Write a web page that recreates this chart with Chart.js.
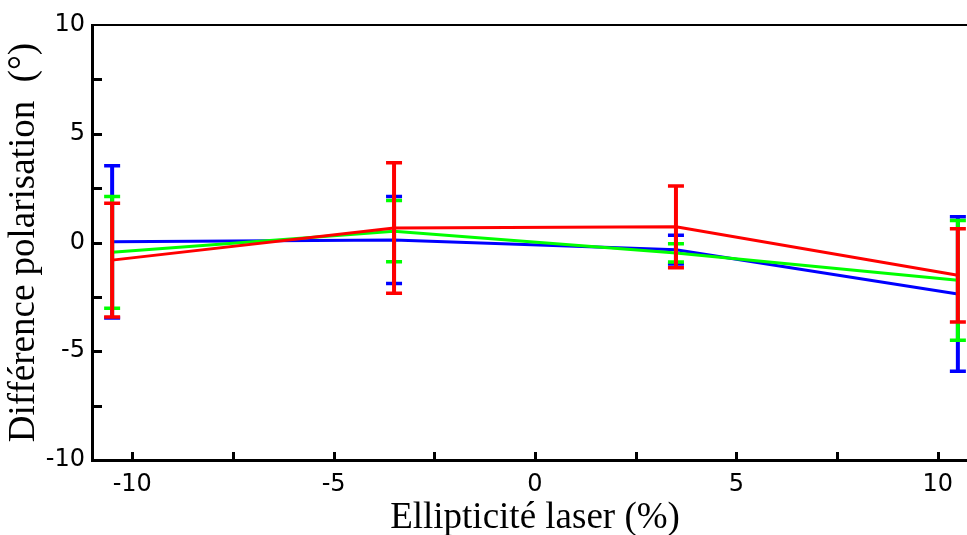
<!DOCTYPE html>
<html>
<head>
<meta charset="utf-8">
<script src="https://cdn.jsdelivr.net/npm/chart.js@4"></script>
<style>
  html, body { margin: 0; padding: 0; background: #fff; }
  #wrap { width: 967px; height: 535px; overflow: hidden; }
</style>
</head>
<body>
<div id="wrap"><canvas id="chart" width="980" height="535"></canvas></div>
<script>
const xValues = [-10.5, -3.5, 3.5, 10.5];
const blueValues = [0.03, 0.12, -0.33, -2.37];
const blueErrors = [3.5, 2.0, 0.66, 3.55];
const greenValues = [-0.45, 0.52, -0.48, -1.74];
const greenErrors = [2.57, 1.41, 0.42, 2.75];
const redValues = [-0.81, 0.67, 0.72, -1.51];
const redErrors = [2.62, 3.0, 1.88, 2.14];
const xTickLabels = ["-10", "-5", "0", "5", "10"];
const yTickLabels = ["-10", "-5", "0", "5", "10"];

const series = [
  { label: "bleu", values: blueValues, errors: blueErrors, color: "#0000ff", order: 3 },
  { label: "vert", values: greenValues, errors: greenErrors, color: "#00ff00", order: 2 },
  { label: "rouge", values: redValues, errors: redErrors, color: "#ff0000", order: 1 },
];

const tickText = (labels) => (value) => {
  const text = String(value);
  return labels.includes(text) ? text : "";
};

// error bars, drawn right after each series so the red one stays on top
const errorBars = {
  id: "errorBars",
  afterDatasetDraw(chart, args) {
    const ds = chart.data.datasets[args.index];
    const { x, y } = chart.scales;
    const ctx = chart.ctx;
    ctx.save();
    ctx.strokeStyle = ds.borderColor;
    ds.data.forEach((p, i) => {
      const px = x.getPixelForValue(p.x);
      const top = y.getPixelForValue(p.y + ds.errors[i]);
      const bottom = y.getPixelForValue(p.y - ds.errors[i]);
      ctx.lineWidth = 4;
      ctx.beginPath();
      ctx.moveTo(px, top);
      ctx.lineTo(px, bottom);
      ctx.stroke();
      ctx.lineWidth = 3.5;
      ctx.beginPath();
      ctx.moveTo(px - 8, top);
      ctx.lineTo(px + 8, top);
      ctx.moveTo(px - 8, bottom);
      ctx.lineTo(px + 8, bottom);
      ctx.stroke();
    });
    ctx.restore();
  },
};

// inward tick marks and the top frame line
const frame = {
  id: "frame",
  afterDraw(chart) {
    const { x, y } = chart.scales;
    const area = chart.chartArea;
    const ctx = chart.ctx;
    ctx.save();
    ctx.strokeStyle = "#000";
    ctx.lineWidth = 2;
    ctx.beginPath();
    ctx.moveTo(area.left, area.top);
    ctx.lineTo(area.right, area.top);
    ctx.stroke();
    ctx.lineWidth = 3;
    ctx.beginPath();
    y.ticks.forEach((t) => {
      if (t.value <= y.min || t.value >= y.max) return;
      const py = Math.round(y.getPixelForValue(t.value)) + 0.5;
      ctx.moveTo(area.left, py);
      ctx.lineTo(area.left + 10, py);
      ctx.moveTo(area.right, py);
      ctx.lineTo(area.right - 10, py);
    });
    x.ticks.forEach((t) => {
      const px = Math.round(x.getPixelForValue(t.value)) + 0.5;
      ctx.moveTo(px, area.bottom);
      ctx.lineTo(px, area.bottom - 8);
    });
    ctx.stroke();
    ctx.restore();
  },
};

const chart = new Chart(document.getElementById("chart"), {
  type: "scatter",
  data: {
    datasets: series.map((s) => ({
      label: s.label,
      data: xValues.map((xv, i) => ({ x: xv, y: s.values[i] })),
      errors: s.errors,
      borderColor: s.color,
      backgroundColor: s.color,
      borderWidth: 3,
      showLine: true,
      tension: 0,
      pointRadius: 0,
      order: s.order,
    })),
  },
  options: {
    responsive: false,
    animation: false,
    devicePixelRatio: 1,
    layout: { padding: { top: 25, right: 2, left: 0, bottom: 0 } },
    plugins: {
      legend: { display: false },
      tooltip: { enabled: false },
    },
    scales: {
      x: {
        type: "linear",
        min: -11,
        max: 11,
        afterFit: (scale) => { scale.height = 75; },
        grid: { display: false, drawTicks: false },
        border: { display: true, color: "#000", width: 3 },
        ticks: {
          stepSize: 2.5,
          includeBounds: false,
          autoSkip: false,
          maxRotation: 0,
          padding: 10,
          color: "#000",
          font: { family: "DejaVu Sans", size: 24 },
          callback: tickText(xTickLabels),
        },
        title: {
          display: true,
          text: "Ellipticité laser (%)",
          color: "#000",
          font: { family: "Liberation Serif", size: 37, lineHeight: 0.9 },
          padding: { top: 0, bottom: 0 },
        },
      },
      y: {
        type: "linear",
        min: -10,
        max: 10,
        afterFit: (scale) => { scale.width = 92; },
        grid: { display: false, drawTicks: false },
        border: { display: true, color: "#000", width: 3 },
        ticks: {
          stepSize: 2.5,
          autoSkip: false,
          padding: 7,
          color: "#000",
          font: { family: "DejaVu Sans", size: 24 },
          callback: tickText(yTickLabels),
        },
        title: {
          display: true,
          text: "Différence polarisation  (°)",
          color: "#000",
          font: { family: "Liberation Serif", size: 37, lineHeight: 1 },
          padding: { top: 6, bottom: 0 },
        },
      },
    },
  },
  plugins: [errorBars, frame],
});
</script>
</body>
</html>
